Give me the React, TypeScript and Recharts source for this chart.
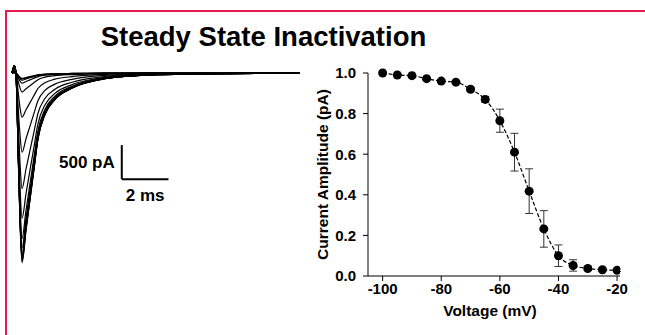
import { ComposedChart, LineChart, Line, XAxis, YAxis, ErrorBar, ReferenceLine } from "recharts";

const FONT = "Arial, 'Liberation Sans', Helvetica, sans-serif";
const RED = "#E8194B";

// steady-state inactivation curve (normalised peak current vs prepulse voltage)
const voltage = [-100, -95, -90, -85, -80, -75, -70, -65, -60, -55, -50, -45, -40, -35, -30, -25, -20];
const amplitude = [1.0, 0.99, 0.987, 0.972, 0.96, 0.955, 0.92, 0.87, 0.765, 0.61, 0.418, 0.232, 0.1, 0.052, 0.037, 0.031, 0.028];
const amplitudeErr = [0, 0, 0, 0.005, 0.005, 0.005, 0.01, 0.015, 0.057, 0.093, 0.11, 0.09, 0.053, 0.028, 0.01, 0.008, 0.006];

const xTicks = [-100, -80, -60, -40, -20];
const xMinorTicks = [-90, -70, -50, -30];
const yTicks = [0, 0.2, 0.4, 0.6, 0.8, 1.0];
const yMinorTicks = [0.1, 0.3, 0.5, 0.7, 0.9];

// raw current traces: time base (ms), waveform as fraction of peak, peak of each sweep (pA)
const traceTime = [0, 0.1, 0.17, 0.21, 0.26, 0.34, 0.43, 0.6, 0.77, 0.95, 1.11, 1.41, 1.84, 2.57, 3.98, 5.91, 8.05, 12.33];
const traceShape = [0, -0.04, 0, 0.14, 0.41, 0.77, 1.0, 0.83, 0.67, 0.5, 0.35, 0.22, 0.14, 0.08, 0.03, 0.01, 0.005, 0];
const tracePeak = [-2790, -2760, -2750, -2710, -2680, -2660, -2570, -2430, -2135, -1700, -1165, -650, -280, -150, -105, -85, -80];

const ssiRows = voltage.map((v, i) => ({ v, amp: amplitude[i], err: amplitudeErr[i] }));

const traceRows = traceTime.map((t, i) => {
  const row: Record<string, number> = { t };
  tracePeak.forEach((p, k) => {
    row["tr" + k] = p * traceShape[i];
  });
  return row;
});

const labelStyle = { fontFamily: FONT, fontWeight: 700, fill: "#000" };

function Traces() {
  return (
    <LineChart
      width={320}
      height={300}
      data={traceRows}
      margin={{ top: 62.8, right: 20, left: 12, bottom: 36.5 }}
    >
      <XAxis type="number" dataKey="t" domain={[0, 12.33]} hide />
      <YAxis type="number" domain={[-2800, 150]} hide />
      {tracePeak.map((_, k) => (
        <Line
          key={k}
          dataKey={"tr" + k}
          type="monotone"
          stroke="#000"
          strokeWidth={1.2}
          dot={false}
          isAnimationActive={false}
        />
      ))}
      {/* scale bar */}
      <ReferenceLine
        segment={[{ x: 4.7, y: -1060 }, { x: 4.7, y: -1560 }]}
        stroke="#000"
        strokeWidth={2}
        label={{ value: "500 pA", position: "left", offset: 7, fontSize: 17, ...labelStyle }}
      />
      <ReferenceLine
        segment={[{ x: 4.7, y: -1560 }, { x: 6.7, y: -1560 }]}
        stroke="#000"
        strokeWidth={2}
        label={{ value: "2 ms", position: "bottom", offset: 10, fontSize: 17, ...labelStyle }}
      />
    </LineChart>
  );
}

function Inactivation() {
  const tick = { fontSize: 15, ...labelStyle };
  return (
    <ComposedChart
      width={345}
      height={285}
      data={ssiRows}
      margin={{ top: 23, right: 25, left: 0, bottom: 19 }}
    >
      <XAxis
        xAxisId="minor"
        type="number"
        domain={[-105, -19]}
        ticks={xMinorTicks}
        allowDataOverflow
        mirror
        axisLine={false}
        tickSize={3}
        tickLine={{ stroke: "#555" }}
        tickFormatter={() => ""}
      />
      <XAxis
        type="number"
        dataKey="v"
        domain={[-105, -19]}
        ticks={xTicks}
        allowDataOverflow
        tick={tick}
        tickSize={5}
        tickLine={{ stroke: "#000" }}
        axisLine={{ stroke: "#000" }}
        height={40}
        label={{ value: "Voltage (mV)", position: "insideBottom", offset: 0, dx: -4, fontSize: 15.5, ...labelStyle }}
      />
      <YAxis
        yAxisId="minor"
        type="number"
        domain={[0, 1]}
        ticks={yMinorTicks}
        mirror
        axisLine={false}
        tickSize={3}
        tickLine={{ stroke: "#555" }}
        tickFormatter={() => ""}
      />
      <YAxis
        type="number"
        domain={[0, 1]}
        ticks={yTicks}
        tickFormatter={(v: number) => v.toFixed(1)}
        tick={tick}
        tickSize={5}
        tickMargin={7}
        tickLine={{ stroke: "#000" }}
        axisLine={{ stroke: "#000" }}
        width={68}
        label={{
          value: "Current Amplitude (pA)",
          angle: -90,
          position: "insideLeft",
          offset: 22,
          fontSize: 15.5,
          ...labelStyle,
          style: { textAnchor: "middle" },
        }}
      />
      <Line
        dataKey="amp"
        type="monotone"
        stroke="#000"
        strokeWidth={1.2}
        strokeDasharray="4 2"
        dot={{ r: 4.5, fill: "#000", stroke: "#000", strokeWidth: 0 }}
        isAnimationActive={false}
      >
        <ErrorBar dataKey="err" direction="y" width={4} stroke="#333" strokeWidth={1} />
      </Line>
    </ComposedChart>
  );
}

export default function App() {
  return (
    <div style={{ position: "absolute", left: 0, top: 0, width: 645, height: 335, background: "#fff", overflow: "hidden" }}>
      <div
        style={{
          position: "absolute",
          left: 5,
          top: 10,
          right: 0,
          bottom: 0,
          borderTop: `2px solid ${RED}`,
          borderLeft: `2px solid ${RED}`,
        }}
      />
      <div
        style={{
          position: "absolute",
          left: 0,
          top: 21,
          width: 527,
          textAlign: "center",
          fontFamily: FONT,
          fontWeight: 700,
          fontSize: 27.5,
          lineHeight: "32px",
          color: "#000",
          whiteSpace: "nowrap",
        }}
      >
        Steady State Inactivation
      </div>
      <div style={{ position: "absolute", left: 0, top: 0 }}>
        <Traces />
      </div>
      <div style={{ position: "absolute", left: 300, top: 50 }}>
        <Inactivation />
      </div>
    </div>
  );
}
